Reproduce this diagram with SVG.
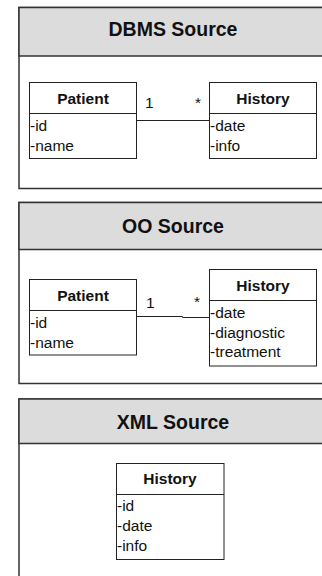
<svg xmlns="http://www.w3.org/2000/svg" width="322" height="576" viewBox="0 0 322 576">
  <style>
    .frame { fill: #ffffff; stroke: #333333; stroke-width: 1.5; }
    .head { fill: #dcdcdc; stroke: #333333; stroke-width: 1.5; }
    .title { font-family: "Liberation Sans", Arial, sans-serif; font-weight: bold; font-size: 19.5px; fill: #111111; text-anchor: middle; }
    .box { fill: #ffffff; stroke: #222222; stroke-width: 1; }
    .div { stroke: #222222; stroke-width: 1; }
    .cname { font-family: "Liberation Sans", Arial, sans-serif; font-weight: bold; font-size: 15.5px; fill: #111111; text-anchor: middle; }
    .attr { font-family: "Liberation Sans", Arial, sans-serif; font-size: 15.5px; fill: #111111; }
    .conn { fill: none; stroke: #222222; stroke-width: 1; }
    .mult { font-family: "Liberation Sans", Arial, sans-serif; font-size: 15.5px; fill: #111111; }
  </style>

  <!-- DBMS package -->
  <g id="dbms-source">
    <rect class="frame" x="19" y="7.5" width="308" height="181"/>
    <rect class="head" x="19" y="7.5" width="308" height="48.5"/>
    <text class="title" x="173" y="36">DBMS Source</text>
  </g>
  <g id="dbms-patient">
    <rect class="box" x="29.5" y="82.5" width="107" height="76"/>
    <line class="div" x1="29.5" y1="113.5" x2="136.5" y2="113.5"/>
    <text class="cname" x="83" y="104">Patient</text>
    <text class="attr" x="30" y="131">-id</text>
    <text class="attr" x="30" y="151">-name</text>
  </g>
  <g id="dbms-history">
    <rect class="box" x="209.5" y="82.5" width="107" height="76"/>
    <line class="div" x1="209.5" y1="113.5" x2="316.5" y2="113.5"/>
    <text class="cname" x="263" y="104">History</text>
    <text class="attr" x="210" y="131">-date</text>
    <text class="attr" x="210" y="151">-info</text>
  </g>

  <!-- OO package -->
  <g id="oo-source">
    <rect class="frame" x="19" y="202.5" width="308" height="181"/>
    <rect class="head" x="19" y="202.5" width="308" height="47"/>
    <text class="title" x="173" y="233">OO Source</text>
  </g>
  <g id="oo-patient">
    <rect class="box" x="29.5" y="279.5" width="107" height="75.5"/>
    <line class="div" x1="29.5" y1="310.5" x2="136.5" y2="310.5"/>
    <text class="cname" x="83" y="300.5">Patient</text>
    <text class="attr" x="30" y="327.5">-id</text>
    <text class="attr" x="30" y="347.5">-name</text>
  </g>
  <g id="oo-history">
    <rect class="box" x="209.5" y="269.5" width="107" height="96.5"/>
    <line class="div" x1="209.5" y1="300.5" x2="316.5" y2="300.5"/>
    <text class="cname" x="263" y="290.5">History</text>
    <text class="attr" x="210" y="317.5">-date</text>
    <text class="attr" x="210" y="337.5">-diagnostic</text>
    <text class="attr" x="210" y="357">-treatment</text>
  </g>

  <!-- XML package -->
  <g id="xml-source">
    <rect class="frame" x="19" y="399" width="308" height="200"/>
    <rect class="head" x="19" y="399" width="308" height="44.5"/>
    <text class="title" x="173" y="428.5">XML Source</text>
  </g>
  <g id="xml-history">
    <rect class="box" x="116.5" y="463.5" width="107.5" height="96"/>
    <line class="div" x1="116.5" y1="494.5" x2="224" y2="494.5"/>
    <text class="cname" x="170" y="484">History</text>
    <text class="attr" x="117" y="511">-id</text>
    <text class="attr" x="117" y="531">-date</text>
    <text class="attr" x="117" y="551">-info</text>
  </g>

  <!-- associations with multiplicities -->
  <g id="connectors">
    <path class="conn" d="M136.5 120.5 H209.5"/>
    <text class="mult" x="145" y="108">1</text>
    <text class="mult" x="195" y="108">*</text>
    <path class="conn" d="M136.5 316.5 H182.5 V317.5 H209.5"/>
    <text class="mult" x="146" y="307.5">1</text>
    <text class="mult" x="194" y="307">*</text>
  </g>
</svg>
